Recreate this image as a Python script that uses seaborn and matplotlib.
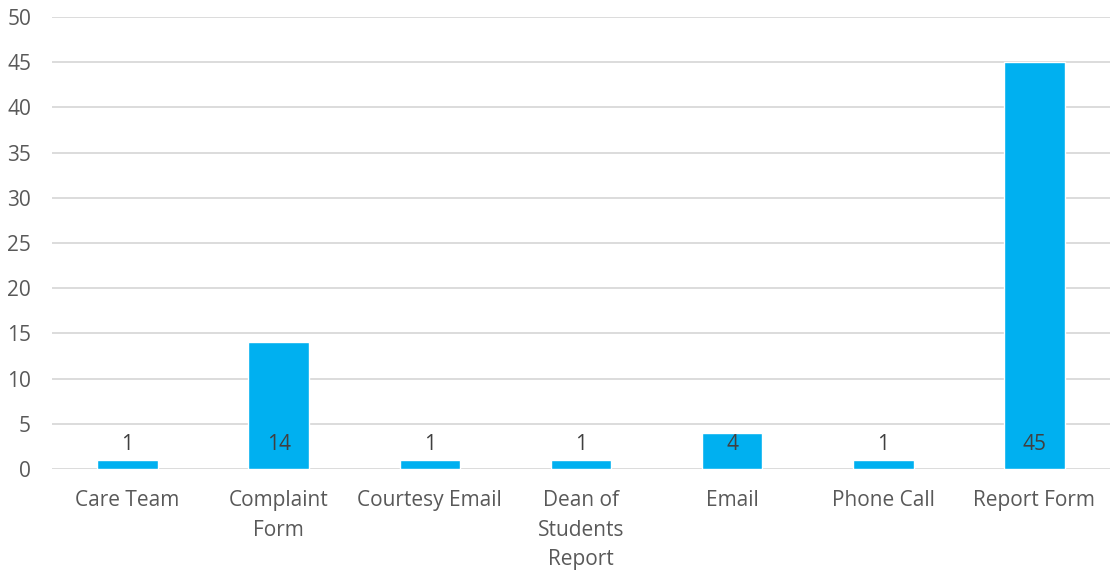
import matplotlib
matplotlib.use("Agg")
import matplotlib.pyplot as plt
import seaborn as sns
import pandas as pd

categories = ["Care Team", "Complaint\nForm", "Courtesy Email", "Dean of\nStudents\nReport",
              "Email", "Phone Call", "Report Form"]
values = [1, 14, 1, 1, 4, 1, 45]
yticks = [0, 5, 10, 15, 20, 25, 30, 35, 40, 45, 50]

sns.set_theme(style="white")
plt.rcParams['font.family'] = ['Open Sans', 'DejaVu Sans']

df = pd.DataFrame({"cat": categories, "val": values})

fig = plt.figure(figsize=(11.1, 5.81), dpi=100)
ax = fig.add_axes([0.0468, 0.1928, 0.9532, 0.7779])
sns.barplot(data=df, x="cat", y="val", color="#00B0F0", saturation=1, width=0.4, ax=ax, zorder=3)

ax.set_ylim(0, 50)
ax.set_yticks(yticks)
ax.set_xlim(-0.5, len(categories) - 0.5)
ax.yaxis.grid(True, color="#D9D9D9", linewidth=1.3, zorder=0)
ax.set_axisbelow(True)
for s in ax.spines.values():
    s.set_visible(False)
ax.set_xlabel("")
ax.set_ylabel("")
ax.tick_params(axis="y", length=0, pad=15, labelsize=15, labelcolor="#595959")
ax.tick_params(axis="x", length=0, pad=15, labelsize=15, labelcolor="#595959")
for lbl in ax.get_xticklabels():
    lbl.set_linespacing(1.55)

for i, v in enumerate(values):
    ax.annotate(str(v), xy=(i, 0), xytext=(0, 17.5), textcoords="offset points",
                ha="center", va="center", fontsize=15, color="#404040", zorder=5)

fig.savefig("out.png", dpi=100)
